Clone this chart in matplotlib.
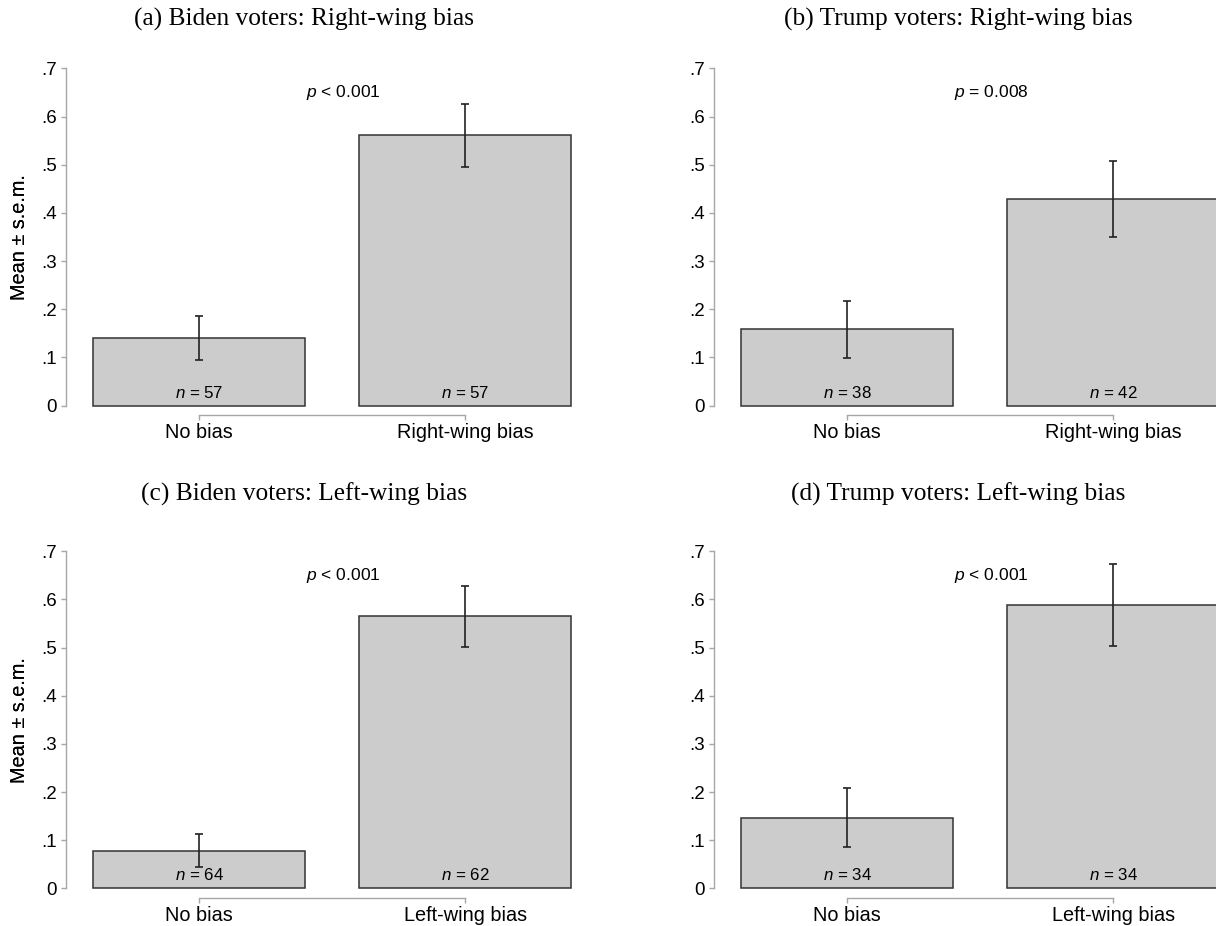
import matplotlib
matplotlib.use("Agg")
import matplotlib.pyplot as plt

plt.rcParams['font.family'] = ['Liberation Sans', 'DejaVu Sans']
plt.rcParams['mathtext.fontset'] = 'custom'
plt.rcParams['mathtext.it'] = 'Liberation Sans:italic'
plt.rcParams['mathtext.rm'] = 'Liberation Sans'

titles = ["(a) Biden voters: Right-wing bias", "(b) Trump voters: Right-wing bias",
          "(c) Biden voters: Left-wing bias", "(d) Trump voters: Left-wing bias"]
cats_right = ["No bias", "Right-wing bias"]
cats_left = ["No bias", "Left-wing bias"]
categories = [cats_right, cats_right, cats_left, cats_left]
means_a = [0.140, 0.561]
sems_a = [0.0464, 0.0663]
means_b = [0.158, 0.429]
sems_b = [0.060, 0.078]
means_c = [0.078, 0.565]
sems_c = [0.034, 0.0635]
means_d = [0.147, 0.588]
sems_d = [0.062, 0.0857]
means = [means_a, means_b, means_c, means_d]
sems = [sems_a, sems_b, sems_c, sems_d]
ns = [[57, 57], [38, 42], [64, 62], [34, 34]]
pvals = ["< 0.001", "= 0.008", "< 0.001", "< 0.001"]
yticks = [0, 0.1, 0.2, 0.3, 0.4, 0.5, 0.6, 0.7]
ytick_labels = ["0", ".1", ".2", ".3", ".4", ".5", ".6", ".7"]

W, H = 1216, 926
fig = plt.figure(figsize=(W / 100, H / 100), dpi=100)

lefts = [66.3, 714.3, 66.3, 714.3]
bottoms = [415.0, 415.0, 897.8, 897.8]
ax_w, ax_h = 532.0, 346.5
title_x = [304, 958, 304, 958]
title_y = [19, 19, 494, 494]

spine_col = '#a6a6a6'
for i in range(4):
    ax = fig.add_axes([lefts[i] / W, 1 - bottoms[i] / H, ax_w / W, ax_h / H])
    x = [0, 1]
    ax.bar(x, means[i], width=0.797, color='#cccccc', edgecolor='#333333', linewidth=1.1, zorder=2)
    ax.errorbar(x, means[i], yerr=sems[i], fmt='none', ecolor='#222222', elinewidth=1.2,
                capsize=2.8, capthick=1.2, zorder=3)
    for xi, n in zip(x, ns[i]):
        ax.text(xi, 0.027, r'$n$ = %d' % n, ha='center', va='center', fontsize=12.2, zorder=4)
    ax.text(0.40, 0.65, r'$p$ ' + pvals[i], ha='left', va='center', fontsize=12.5)
    ax.set_xlim(-0.5, 1.5)
    ax.set_ylim(-0.0197, 0.7)
    ax.set_xticks(x)
    ax.set_xticklabels(categories[i], fontsize=14.3)
    ax.set_yticks(yticks)
    ax.set_yticklabels(ytick_labels, fontsize=13.5)
    for s in ['top', 'right']:
        ax.spines[s].set_visible(False)
    ax.spines['left'].set_bounds(0, 0.7)
    ax.spines['bottom'].set_bounds(0, 1)
    for s in ['left', 'bottom']:
        ax.spines[s].set_color(spine_col)
        ax.spines[s].set_linewidth(1.0)
    ax.tick_params(axis='both', direction='out', length=3.6, width=1.0, color=spine_col,
                   labelcolor='black')
    ax.tick_params(axis='y', pad=3)
    ax.tick_params(axis='x', pad=2)
    ax.set_ylabel('Mean ± s.e.m.', fontsize=14.3)
    ax.yaxis.label.set_va('center')
    ax.yaxis.set_label_coords((20 - lefts[i]) / ax_w, 0.514)
    ax.patch.set_alpha(0)
    fig.text(title_x[i] / W, 1 - title_y[i] / H, titles[i], ha='center', va='center',
             fontsize=18.3, family=['Liberation Serif', 'DejaVu Serif'])

fig.savefig('out.png', dpi=100)
